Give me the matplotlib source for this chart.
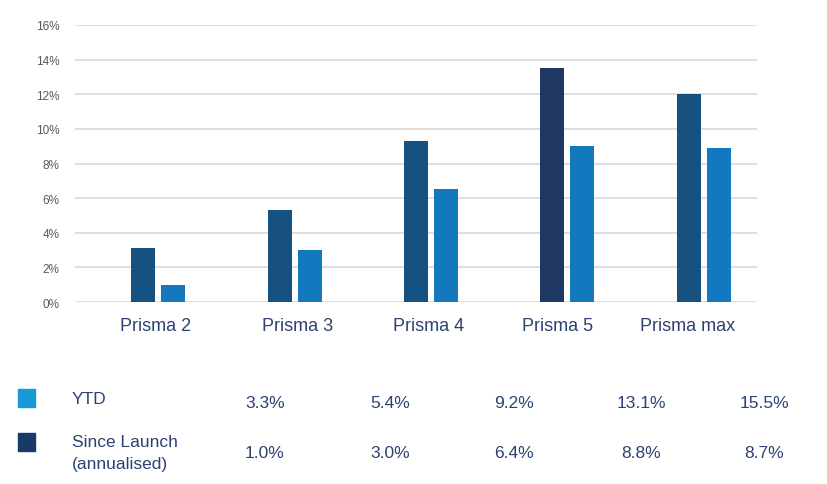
import numpy as np
import matplotlib.pyplot as plt
from matplotlib.patches import Rectangle

plt.rcParams['font.family'] = ['Liberation Sans', 'DejaVu Sans']

funds = ['Prisma 2', 'Prisma 3', 'Prisma 4', 'Prisma 5', 'Prisma max']
since_launch_bar = [3.1, 5.3, 9.3, 13.5, 12.0]
ytd_bar = [1.0, 3.0, 6.5, 9.0, 8.9]
ytd_table = ['3.3%', '5.4%', '9.2%', '13.1%', '15.5%']
launch_table = ['1.0%', '3.0%', '6.4%', '8.8%', '8.7%']

dark = '#16517f'
dark_hi = '#203864'
light = '#1379bf'
text_blue = '#2b4272'

fig = plt.figure(figsize=(8.27, 4.85), dpi=100)
ax = fig.add_axes([75 / 827, 1 - 303 / 485, 682 / 827, 277 / 485])

x = np.arange(len(funds))
w = 0.176
dark_cols = [dark_hi if v == max(since_launch_bar) else dark for v in since_launch_bar]
ax.bar(x, since_launch_bar, width=w, color=dark_cols, zorder=3)
ax.bar(x + 0.22, ytd_bar, width=w, color=light, zorder=3)

ax.set_xlim(-0.5, len(funds) - 0.5)
ax.set_ylim(0, 16)
ax.set_yticks(range(0, 17, 2))
ax.set_yticklabels([f'{t}%' for t in range(0, 17, 2)], fontsize=8.5, color='#595959')
ax.yaxis.grid(True, color='#d9d9d9', linewidth=1.2, zorder=0)
# category labels sit a little off the bar pairs in the original
label_shift = [0.09, 0.13, 0.09, 0.04, -0.01]
ax.set_xticks(x + np.array(label_shift))
ax.set_xticklabels(funds, fontsize=13, color=text_blue)
ax.tick_params(axis='both', length=0)
ax.tick_params(axis='x', pad=11)
ax.tick_params(axis='y', pad=11)
for s in ax.spines.values():
    s.set_visible(False)

# table below the chart
col_x = [265, 390, 514, 641, 764]
fig.patches.append(Rectangle((18 / 827, 1 - 408 / 485), 17 / 827, 18 / 485,
                             transform=fig.transFigure, color='#189ad6'))
fig.patches.append(Rectangle((18 / 827, 1 - 452 / 485), 17 / 827, 18 / 485,
                             transform=fig.transFigure, color='#173a66'))
fig.text(72 / 827, 1 - 400 / 485, 'YTD', fontsize=12.5, color=text_blue, va='center')
fig.text(72 / 827, 1 - 443 / 485, 'Since Launch', fontsize=12.5, color=text_blue, va='center')
fig.text(72 / 827, 1 - 465 / 485, '(annualised)', fontsize=12.5, color=text_blue, va='center')
for cx, a, b in zip(col_x, ytd_table, launch_table):
    fig.text(cx / 827, 1 - 403 / 485, a, fontsize=12.5, color=text_blue, ha='center', va='center')
    fig.text(cx / 827, 1 - 454 / 485, b, fontsize=12.5, color=text_blue, ha='center', va='center')

fig.savefig('out.png', dpi=100)
